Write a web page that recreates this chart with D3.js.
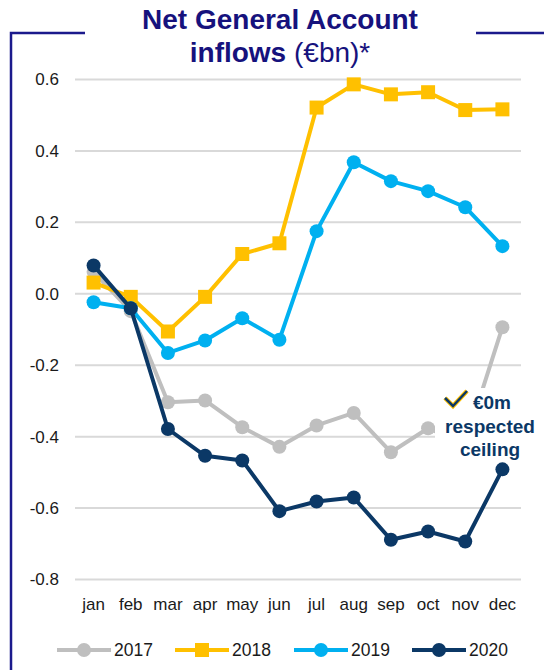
<!DOCTYPE html>
<html>
    <head>
        <meta charset="utf-8">
        <title>Net General Account inflows</title>
        <style>
body {
    margin: 0;
    background-color: white;
}

svg {
    display: block;
    font-family: "Liberation Sans", Arial, sans-serif;
}

.grid line {
    stroke: #d9d9d9;
    stroke-width: 2;
}

.tick text {
    font-size: 17px;
    fill: #1a1a1a;
}

</style>
        <script src="https://d3js.org/d3.v7.min.js"></script>
    </head>
    <body>
        <script>
var months = ["jan", "feb", "mar", "apr", "may", "jun", "jul", "aug", "sep", "oct", "nov", "dec"];
var yTicks = [0.6, 0.4, 0.2, 0.0, -0.2, -0.4, -0.6, -0.8];

var v2017 = [0.06, -0.05, -0.305, -0.30, -0.375, -0.43, -0.37, -0.335, -0.445, -0.378, -0.42, -0.095];
var v2018 = [0.03, -0.01, -0.107, -0.01, 0.11, 0.14, 0.52, 0.585, 0.557, 0.563, 0.513, 0.515];
var v2019 = [-0.025, -0.042, -0.167, -0.132, -0.07, -0.13, 0.174, 0.367, 0.314, 0.286, 0.241, 0.132];
var v2020 = [0.078, -0.042, -0.38, -0.455, -0.468, -0.61, -0.583, -0.572, -0.69, -0.667, -0.695, -0.493];

var seriesNames = ["2017", "2018", "2019", "2020"];
var seriesColors = ["#bfbfbf", "#ffc000", "#00b0f0", "#0b3866"];
var seriesShapes = ["circle", "square", "circle", "circle"];
var seriesValues = [v2017, v2018, v2019, v2020];

var width = 544,
    height = 670;

var svg = d3.select('body')
    .append('svg')
    .attr('width', width)
    .attr('height', height);

var x = d3.scaleBand()
    .domain(months)
    .range([75, 521]);

var y = d3.scaleLinear()
    .domain([-0.8, 0.6])
    .range([579, 79]);

var cx = function (m) { return x(m) + x.bandwidth() / 2; };

// frame around the chart, broken by the title
var frameColor = "#1b1a8c";
svg.append("path")
    .attr("d", "M11,670 V33 H85")
    .attr("fill", "none")
    .attr("stroke", frameColor)
    .attr("stroke-width", 2.5);
svg.append("line")
    .attr("x1", 476).attr("x2", 544)
    .attr("y1", 33).attr("y2", 33)
    .attr("stroke", frameColor)
    .attr("stroke-width", 2.5);

// title
var title = svg.append("text")
    .attr("text-anchor", "middle")
    .attr("fill", "#16127d")
    .attr("font-size", 28);
title.append("tspan")
    .attr("x", 280).attr("y", 29)
    .attr("font-weight", "bold")
    .text("Net General Account");
var t2 = title.append("tspan")
    .attr("x", 280).attr("y", 62);
t2.append("tspan").attr("font-weight", "bold").text("inflows ");
t2.append("tspan").text("(€bn)*");

// gridlines + y labels
var yAxis = svg.append("g")
    .attr("class", "grid")
    .attr("transform", "translate(75,0)")
    .call(d3.axisLeft(y)
        .tickValues(yTicks)
        .tickSize(-446)
        .tickPadding(16)
        .tickFormat(function (d) { return d3.format(".1f")(d).replace("−", "-"); }));
yAxis.select(".domain").remove();
yAxis.selectAll(".tick text").attr("dy", "0.35em");

// x labels
var xAxis = svg.append("g")
    .attr("transform", "translate(0,579)")
    .call(d3.axisBottom(x).tickSize(0).tickPadding(19));
xAxis.select(".domain").remove();

var line = d3.line()
    .x(function (d, i) { return cx(months[i]); })
    .y(function (d) { return y(d); });

seriesValues.forEach(function (vals, s) {
    var g = svg.append("g");
    g.append("path")
        .datum(vals)
        .attr("d", line)
        .attr("fill", "none")
        .attr("stroke", seriesColors[s])
        .attr("stroke-width", 4)
        .attr("stroke-linejoin", "round");
    if (seriesShapes[s] === "square") {
        g.selectAll("rect")
            .data(vals)
            .enter().append("rect")
            .attr("x", function (d, i) { return cx(months[i]) - 7; })
            .attr("y", function (d) { return y(d) - 7; })
            .attr("width", 14)
            .attr("height", 14)
            .attr("fill", seriesColors[s]);
    } else {
        g.selectAll("circle")
            .data(vals)
            .enter().append("circle")
            .attr("cx", function (d, i) { return cx(months[i]); })
            .attr("cy", function (d) { return y(d); })
            .attr("r", 7)
            .attr("fill", seriesColors[s]);
    }
});

// annotation
var note = svg.append("g");
note.append("rect")
    .attr("x", 435).attr("y", 388)
    .attr("width", 109).attr("height", 72)
    .attr("fill", "white");
note.append("path")
    .attr("d", "M445,398 L453,406 L467,391")
    .attr("fill", "none")
    .attr("stroke", "#ffc000")
    .attr("stroke-width", 4.5);
note.append("path")
    .attr("d", "M445,398 L453,406 L467,391")
    .attr("fill", "none")
    .attr("stroke", "#0b3866")
    .attr("stroke-width", 2.5);
note.selectAll("text")
    .data(["€0m", "respected", "ceiling"])
    .enter().append("text")
    .attr("x", function (d, i) { return i === 0 ? 492 : 490; })
    .attr("y", function (d, i) { return 409 + i * 23.5; })
    .attr("text-anchor", "middle")
    .attr("font-size", 19)
    .attr("font-weight", "bold")
    .attr("fill", "#0b3866")
    .text(function (d) { return d; });

// legend
var legendX = [57, 175, 294, 412];
var legend = svg.selectAll(".legend")
    .data(seriesNames)
    .enter().append("g")
    .attr("class", "legend")
    .attr("transform", function (d, i) { return "translate(" + legendX[i] + ",650)"; });
legend.append("line")
    .attr("x1", 0).attr("x2", 54)
    .attr("stroke", function (d, i) { return seriesColors[i]; })
    .attr("stroke-width", 4);
legend.each(function (d, i) {
    var g = d3.select(this);
    if (seriesShapes[i] === "square") {
        g.append("rect").attr("x", 20).attr("y", -7).attr("width", 14).attr("height", 14)
            .attr("fill", seriesColors[i]);
    } else {
        g.append("circle").attr("cx", 27).attr("r", 7).attr("fill", seriesColors[i]);
    }
});
legend.append("text")
    .attr("x", 57)
    .attr("dy", "0.35em")
    .attr("font-size", 17.5)
    .attr("fill", "#1a1a1a")
    .text(function (d) { return d; });

        </script>
    </body>
</html>
